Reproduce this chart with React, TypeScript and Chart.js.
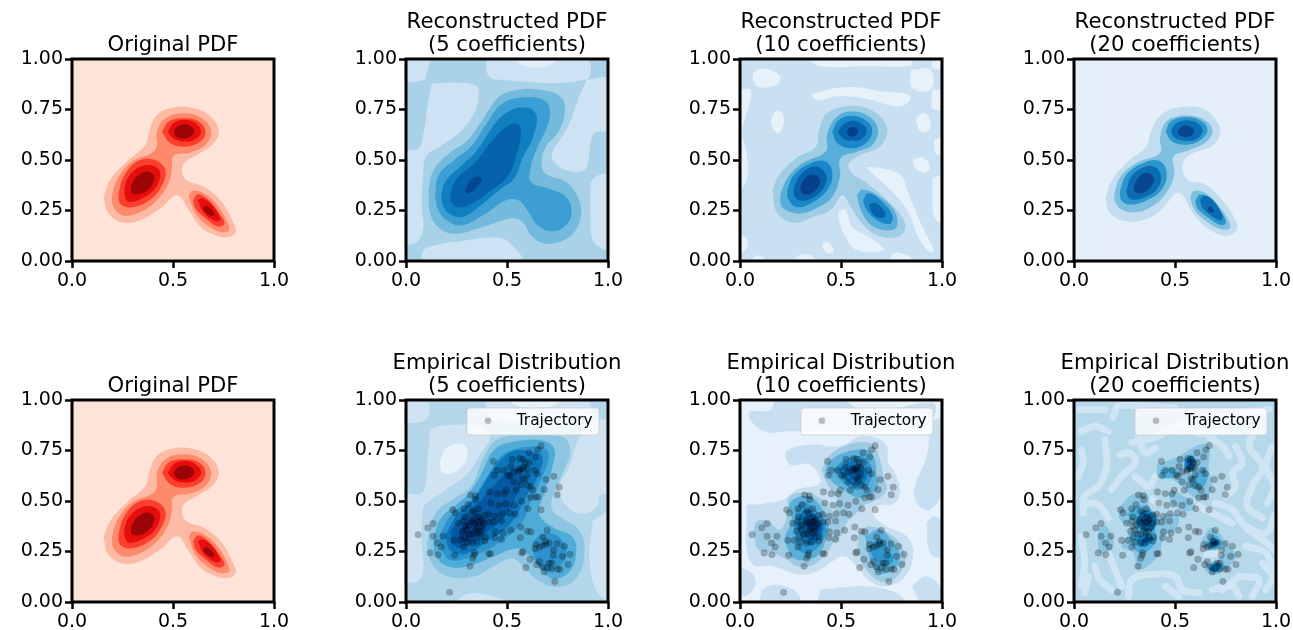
import React, { useEffect, useRef } from "react";
import { Chart, registerables } from "chart.js";
Chart.register(...registerables);

type P = [number, number];
const FULL: P[] = [[0,0],[1,0],[1,1],[0,1]];
const X_TICKS = [0, 0.5, 1];
const Y_TICKS = [0, 0.25, 0.5, 0.75, 1];

const TRAJECTORY: P[] = [[.06,.333],[.108,.367],[.134,.388],[.134,.325],[.12,.243],[.158,.234],[.156,.292],[.174,.272],[.183,.325],[.216,.048],[.317,.177],[.231,.457],[.244,.441],[.286,.462],[.307,.482],[.32,.53],[.344,.526],[.345,.507],[.433,.696],[.452,.652],[.437,.627],[.413,.545],[.452,.536],[.486,.536],[.496,.553],[.486,.652],[.505,.627],[.525,.706],[.563,.71],[.579,.706],[.609,.739],[.642,.718],[.652,.754],[.669,.774],[.636,.652],[.651,.635],[.576,.66],[.563,.658],[.584,.668],[.535,.644],[.515,.622],[.535,.594],[.546,.553],[.579,.611],[.589,.606],[.601,.578],[.618,.569],[.629,.553],[.642,.52],[.618,.516],[.573,.498],[.535,.479],[.493,.487],[.46,.479],[.603,.462],[.669,.457],[.652,.52],[.684,.556],[.694,.606],[.732,.622],[.759,.568],[.749,.531],[.443,.424],[.473,.401],[.41,.434],[.39,.429],[.36,.462],[.33,.45],[.291,.421],[.287,.401],[.33,.396],[.344,.388],[.36,.396],[.374,.404],[.385,.388],[.41,.396],[.435,.396],[.476,.437],[.513,.441],[.54,.434],[.294,.375],[.302,.355],[.294,.322],[.344,.355],[.357,.342],[.369,.322],[.393,.322],[.352,.297],[.33,.292],[.39,.302],[.236,.305],[.269,.305],[.286,.272],[.302,.297],[.241,.231],[.34,.243],[.337,.231],[.33,.215],[.418,.239],[.41,.239],[.443,.347],[.44,.318],[.48,.342],[.473,.31],[.518,.355],[.568,.371],[.566,.318],[.601,.35],[.618,.347],[.579,.248],[.573,.243],[.614,.211],[.647,.185],[.593,.17],[.676,.173],[.684,.149],[.709,.193],[.722,.193],[.72,.162],[.75,.162],[.762,.162],[.802,.186],[.812,.236],[.784,.276],[.749,.289],[.709,.292],[.692,.285],[.676,.28],[.642,.285],[.639,.264],[.662,.272],[.73,.259],[.729,.231],[.775,.226],[.699,.355],[.676,.322],[.737,.101],[.31,.38],[.325,.41],[.35,.37],[.37,.35],[.315,.335],[.38,.37],[.33,.335],[.6,.66],[.59,.69],[.61,.69],[.56,.65],[.6,.63],[.57,.58],[.52,.67],[.28,.35],[.26,.39],[.42,.49],[.66,.2],[.7,.17],[.69,.3],[.36,.42],[.34,.44]];

// Original PDF
const O1: P[] = [[.156,.318],[.189,.401],[.272,.492],[.363,.575],[.384,.649],[.421,.724],[.503,.76],[.603,.757],[.686,.715],[.727,.641],[.694,.575],[.619,.525],[.561,.492],[.545,.45],[.566,.401],[.652,.368],[.735,.301],[.793,.202],[.81,.144],[.768,.119],[.71,.128],[.636,.169],[.578,.252],[.52,.326],[.437,.26],[.338,.202],[.255,.189],[.18,.235]];
const O2A: P[] = [[.197,.318],[.222,.401],[.296,.492],[.412,.55],[.421,.641],[.462,.707],[.553,.732],[.644,.707],[.689,.641],[.661,.575],[.586,.537],[.503,.52],[.495,.45],[.47,.368],[.404,.285],[.321,.235],[.247,.227],[.205,.268]];
const O2B: P[] = [[.578,.318],[.595,.348],[.652,.335],[.719,.277],[.768,.194],[.777,.152],[.735,.144],[.669,.177],[.611,.235]];
const O3A: P[] = [[.445,.641],[.479,.691],[.553,.707],[.628,.691],[.661,.641],[.636,.591],[.561,.566],[.487,.583]];
const O3B: P[] = [[.23,.335],[.255,.417],[.321,.492],[.404,.503],[.462,.45],[.437,.359],[.371,.293],[.288,.265],[.238,.285]];
const O3C: P[] = [[.6,.301],[.623,.331],[.677,.301],[.735,.227],[.755,.185],[.719,.172],[.652,.219],[.611,.26]];
const O4A: P[] = [[.474,.641],[.503,.682],[.556,.699],[.611,.682],[.639,.641],[.611,.603],[.556,.591],[.5,.608]];
const O4B: P[] = [[.258,.359],[.28,.417],[.338,.467],[.404,.47],[.437,.434],[.412,.359],[.346,.31],[.28,.293],[.263,.318]];
const O4C: P[] = [[.623,.301],[.644,.31],[.686,.285],[.732,.219],[.732,.199],[.705,.199],[.652,.238]];
const O5A: P[] = [[.503,.641],[.523,.666],[.561,.677],[.595,.662],[.606,.641],[.586,.616],[.545,.606],[.512,.619]];
const O5B: P[] = [[.291,.368],[.313,.409],[.363,.442],[.401,.431],[.404,.392],[.374,.351],[.33,.331],[.296,.338]];
const O5C: P[] = [[.652,.268],[.669,.272],[.699,.243],[.705,.227],[.682,.227],[.656,.248]];

// Reconstructed, 5 coefficients
const A_LA: P[] = [[0,1],[.111,1],[.103,.929],[.086,.896],[0,.896]];
const A_LB: P[] = [[.398,1],[.891,1],[.891,.898],[.443,.898],[.402,.93]];
const A_LC: P[] = [[.128,.878],[.244,.883],[.344,.87],[.36,.828],[.344,.746],[.277,.647],[.178,.573],[.103,.523],[.086,.449],[.078,.267],[.086,.168],[.053,.094],[0,.091],[0,.54],[.061,.556],[.086,.63],[.111,.795]];
const A_LD: P[] = [[.895,.898],[1,.898],[1,.65],[.941,.639],[.916,.597],[.9,.482],[.875,.446],[.792,.449],[.734,.49],[.722,.531],[.759,.597],[.808,.68],[.85,.795]];
const A_LE: P[] = [[.078,0],[.086,.053],[.144,.078],[.277,.099],[.443,.116],[.51,.094],[.568,0]];
const A_LF: P[] = [[.913,.383],[.941,.419],[1,.424],[1,.061],[.974,.061],[.925,.102],[.913,.218]];
const A_LG: P[] = [[.535,1],[.739,1],[.709,.969],[.642,.957],[.568,.974]];
const A1: P[] = [[.111,.35],[.136,.449],[.211,.531],[.302,.597],[.377,.696],[.46,.812],[.559,.848],[.676,.845],[.767,.812],[.787,.746],[.759,.647],[.692,.564],[.671,.482],[.692,.432],[.792,.391],[.85,.317],[.867,.234],[.833,.144],[.759,.094],[.676,.089],[.618,.127],[.584,.185],[.543,.21],[.476,.201],[.377,.168],[.244,.135],[.169,.16],[.12,.234]];
const A2: P[] = [[.144,.317],[.161,.424],[.236,.498],[.319,.564],[.393,.672],[.476,.779],[.576,.809],[.676,.799],[.712,.754],[.701,.672],[.651,.564],[.618,.465],[.618,.391],[.709,.358],[.792,.317],[.82,.243],[.792,.177],[.725,.147],[.651,.177],[.601,.251],[.559,.3],[.493,.3],[.393,.234],[.277,.177],[.203,.201],[.161,.251]];
const A3: P[] = [[.174,.317],[.194,.391],[.277,.474],[.352,.548],[.435,.672],[.518,.746],[.609,.757],[.647,.713],[.626,.606],[.576,.507],[.535,.408],[.46,.35],[.36,.267],[.277,.218],[.219,.231],[.186,.267]];
const A4: P[] = [[.219,.333],[.252,.408],[.344,.49],[.427,.597],[.51,.672],[.559,.672],[.568,.622],[.543,.515],[.501,.416],[.41,.342],[.31,.276],[.252,.267],[.224,.292]];
const A5: P[] = [[.294,.358],[.319,.399],[.352,.419],[.374,.408],[.352,.366],[.314,.337],[.297,.342]];

// Reconstructed, 10 coefficients
const B_A: P[] = [[.066,.931],[.102,.951],[.168,.939],[.201,.901],[.168,.868],[.094,.861],[.066,.889]];
const B_B: P[] = [[.35,.823],[.432,.848],[.564,.861],[.696,.84],[.837,.823],[.837,.79],[.779,.765],[.614,.806],[.482,.815],[.383,.795]];
const B_C: P[] = [[.152,.691],[.177,.74],[.21,.732],[.215,.674],[.193,.633],[.168,.649]];
const B_D: P[] = [[.333,1],[.845,1],[.845,.967],[.614,.964],[.399,.964]];
const B_E: P[] = [[.845,.947],[.944,.947],[.944,.848],[.853,.856]];
const B_E2: P[] = [[.952,1],[1,1],[1,.955],[.952,.955]];
const B_E3: P[] = [[.952,.848],[1,.84],[1,.752],[.952,.757]];
const B_F: P[] = [[.87,.699],[.903,.732],[.939,.707],[.936,.649],[.894,.641]];
const B_G: P[] = [[.96,.599],[1,.613],[1,.533],[.969,.53]];
const B_H: P[] = [[.853,.5],[.903,.513],[.94,.467],[.911,.437],[.87,.459]];
const B_I: P[] = [[.952,.409],[1,.421],[1,.194],[.96,.219]];
const B_J: P[] = [[0,.848],[.05,.848],[.053,.798],[.028,.715],[.012,.633],[.033,.533],[.036,.417],[0,.359]];
const B_K: P[] = [[.622,.467],[.696,.459],[.795,.426],[.828,.351],[.861,.268],[.911,.152],[.96,.053],[.936,.045],[.878,.128],[.828,.252],[.746,.351],[.663,.426]];
const B_L: P[] = [[.49,.252],[.523,.252],[.556,.169],[.663,.103],[.713,.053],[.581,.053],[.523,.119],[.49,.202]];
const B_M: P[] = [[.408,.086],[.432,.094],[.465,.053],[.449,.036],[.416,.053]];
const B_N1: P[] = [[.267,0],[.292,.028],[.35,.028],[.375,0]];
const B_N2: P[] = [[.053,0],[.086,.028],[.127,0]];
const B_N3: P[] = [[.738,0],[.762,.04],[.828,.028],[.861,0]];
const B_O: P[] = [[0,.119],[.028,.119],[.036,.07],[0,.045]];
const B1: P[] = [[.16,.351],[.193,.426],[.276,.508],[.375,.566],[.391,.649],[.432,.732],[.556,.768],[.663,.74],[.724,.674],[.721,.608],[.68,.558],[.597,.525],[.54,.484],[.548,.442],[.63,.384],[.729,.301],[.812,.202],[.812,.144],[.762,.116],[.68,.128],[.606,.185],[.548,.268],[.507,.326],[.449,.252],[.366,.219],[.267,.189],[.185,.235]];
const B2A: P[] = [[.201,.335],[.234,.409],[.309,.484],[.424,.542],[.432,.633],[.482,.715],[.556,.74],[.639,.715],[.683,.649],[.655,.575],[.581,.542],[.498,.508],[.495,.417],[.457,.318],[.391,.268],[.3,.235],[.226,.252],[.201,.285]];
const B2B: P[] = [[.578,.326],[.606,.354],[.68,.326],[.762,.252],[.779,.177],[.746,.152],[.663,.169],[.606,.235]];
const B3A: P[] = [[.457,.641],[.49,.699],[.556,.719],[.63,.691],[.655,.641],[.622,.583],[.556,.558],[.482,.583]];
const B3B: P[] = [[.234,.351],[.267,.426],[.35,.484],[.424,.492],[.457,.434],[.432,.351],[.35,.285],[.276,.268],[.238,.31]];
const B3C: P[] = [[.609,.301],[.634,.335],[.696,.301],[.754,.227],[.743,.185],[.68,.202],[.627,.252]];
const B4A: P[] = [[.485,.641],[.515,.679],[.559,.696],[.61,.674],[.627,.641],[.6,.603],[.556,.596],[.507,.608]];
const B4B: P[] = [[.267,.359],[.292,.417],[.35,.464],[.399,.459],[.429,.409],[.399,.343],[.342,.305],[.292,.301],[.267,.326]];
const B4C: P[] = [[.639,.277],[.663,.288],[.705,.26],[.721,.227],[.705,.214],[.663,.227]];
const B5A: P[] = [[.528,.641],[.545,.661],[.568,.662],[.586,.641],[.568,.619],[.54,.619]];
const B5B: P[] = [[.297,.368],[.325,.414],[.366,.429],[.396,.401],[.383,.359],[.342,.331],[.309,.335]];

// Reconstructed, 20 coefficients
const C1: P[] = [[.156,.313],[.185,.395],[.268,.494],[.359,.568],[.381,.642],[.434,.725],[.533,.763],[.641,.753],[.707,.692],[.724,.634],[.682,.568],[.591,.535],[.542,.494],[.542,.436],[.566,.4],[.649,.379],[.732,.305],[.798,.206],[.806,.156],[.757,.124],[.682,.148],[.6,.222],[.517,.338],[.434,.255],[.351,.206],[.252,.198],[.177,.239]];
const C2A: P[] = [[.199,.329],[.227,.412],[.31,.486],[.426,.535],[.426,.609],[.459,.692],[.55,.72],[.649,.697],[.686,.642],[.649,.585],[.566,.547],[.492,.516],[.497,.436],[.467,.354],[.401,.28],[.31,.242],[.235,.255],[.202,.296]];
const C2B: P[] = [[.575,.313],[.591,.346],[.649,.338],[.724,.264],[.773,.181],[.765,.156],[.707,.165],[.633,.214],[.591,.264]];
const C3A: P[] = [[.454,.642],[.48,.692],[.558,.713],[.633,.692],[.661,.646],[.624,.598],[.558,.576],[.484,.593]];
const C3B: P[] = [[.227,.346],[.26,.428],[.351,.489],[.426,.494],[.459,.436],[.434,.354],[.351,.296],[.268,.28],[.232,.305]];
const C3C: P[] = [[.6,.296],[.624,.329],[.682,.305],[.732,.239],[.752,.189],[.724,.178],[.666,.214],[.616,.255]];
const C4A: P[] = [[.479,.642],[.503,.68],[.558,.697],[.616,.68],[.636,.642],[.608,.604],[.558,.595],[.5,.609]];
const C4B: P[] = [[.26,.354],[.285,.42],[.351,.466],[.401,.466],[.431,.42],[.409,.354],[.343,.313],[.285,.305],[.262,.329]];
const C4C: P[] = [[.624,.305],[.646,.324],[.691,.296],[.732,.231],[.729,.201],[.682,.222],[.636,.264]];
const C5A: P[] = [[.512,.642],[.533,.664],[.558,.67],[.586,.659],[.596,.642],[.58,.621],[.55,.614],[.52,.626]];
const C5B: P[] = [[.298,.371],[.318,.412],[.359,.436],[.392,.42],[.392,.387],[.359,.346],[.318,.334],[.298,.346]];
const C5C: P[] = [[.661,.264],[.677,.268],[.694,.247],[.686,.239],[.666,.247]];

// Empirical, 5 coefficients
const D_LA: P[] = [[0,1],[.103,1],[.103,.907],[0,.896]];
const D_LB: P[] = [[.393,1],[.891,1],[.891,.896],[.44,.9],[.4,.95]];
const D_LC: P[] = [[.12,.858],[.194,.875],[.36,.87],[.418,.825],[.369,.734],[.302,.635],[.194,.553],[.111,.495],[.086,.47],[.078,.305],[.078,.124],[0,.107],[0,.528],[.07,.533],[.095,.569],[.108,.718]];
const D_LD: P[] = [[.9,.891],[1,.891],[1,.545],[.958,.528],[.95,.479],[.875,.437],[.792,.479],[.759,.569],[.808,.668],[.842,.776]];
const D_LE: P[] = [[.925,.404],[1,.437],[1,0],[.941,.058],[.908,.223]];
const D_LF: P[] = [[.244,0],[.31,.041],[.443,.025],[.493,0]];
const D_WA: P[] = [[.501,1],[.759,1],[.71,.967],[.568,.967]];
const D_WB: P[] = [[.169,.693],[.194,.759],[.261,.784],[.302,.759],[.294,.693],[.227,.635],[.178,.644]];
const D1: P[] = [[.103,.289],[.144,.437],[.236,.512],[.319,.569],[.393,.734],[.46,.809],[.609,.825],[.775,.817],[.813,.751],[.775,.635],[.725,.52],[.725,.454],[.775,.413],[.858,.355],[.883,.239],[.842,.116],[.742,.074],[.642,.116],[.584,.173],[.526,.215],[.443,.182],[.327,.124],[.194,.132],[.12,.206]];
const D2: P[] = [[.136,.322],[.178,.421],[.294,.52],[.36,.611],[.435,.751],[.526,.792],[.676,.8],[.734,.759],[.725,.668],[.684,.536],[.659,.437],[.725,.371],[.825,.322],[.842,.239],[.808,.149],[.725,.116],[.659,.173],[.601,.239],[.543,.264],[.427,.223],[.294,.173],[.194,.182],[.144,.239]];
const D3A: P[] = [[.169,.338],[.227,.437],[.319,.503],[.402,.619],[.476,.726],[.593,.767],[.692,.759],[.706,.71],[.667,.602],[.618,.503],[.576,.396],[.476,.305],[.36,.239],[.227,.206],[.178,.256]];
const D3B: P[] = [[.629,.272],[.651,.322],[.725,.338],[.784,.289],[.792,.223],[.742,.165],[.684,.157],[.642,.206]];
const D4: P[] = [[.194,.33],[.252,.429],[.344,.52],[.427,.652],[.518,.743],[.626,.743],[.676,.718],[.651,.619],[.593,.52],[.518,.388],[.41,.305],[.294,.239],[.219,.256]];
const D5: P[] = [[.219,.347],[.277,.421],[.369,.503],[.443,.586],[.518,.652],[.576,.652],[.543,.52],[.493,.429],[.393,.338],[.294,.272],[.236,.281]];
const D6: P[] = [[.269,.355],[.319,.413],[.369,.429],[.393,.396],[.352,.322],[.294,.297],[.261,.314]];

// Empirical, 10 coefficients
const E_P0: P[] = [[.033,.482],[.116,.487],[.215,.507],[.281,.556],[.396,.589],[.347,.68],[.248,.68],[.231,.746],[.347,.779],[.495,.771],[.594,.82],[.677,.812],[.726,.771],[.734,.688],[.759,.655],[.792,.556],[.767,.49],[.677,.474],[.66,.432],[.726,.375],[.825,.325],[.858,.243],[.817,.127],[.726,.078],[.644,.102],[.578,.177],[.512,.226],[.446,.193],[.396,.16],[.297,.135],[.165,.177],[.066,.185],[.03,.276],[.033,.391]];
const E_T: P[] = [[.173,1],[.512,1],[.578,.96],[.726,.952],[.957,.985],[.957,.911],[.875,.845],[.743,.845],[.611,.837],[.446,.845],[.239,.845],[.116,.845],[.041,.936],[.149,.952]];
const E_R: P[] = [[.941,.894],[1,.903],[1,.556],[.941,.457],[.875,.49],[.866,.573],[.924,.721]];
const E_B1: P[] = [[0,.177],[.066,.135],[.074,.078],[.025,.028],[0,.045]];
const E_B2: P[] = [[.107,.061],[.165,.086],[.264,.061],[.297,0],[.107,0]];
const E_B3: P[] = [[.85,.078],[.924,.127],[1,.061],[1,0],[.899,0]];
const E_B4: P[] = [[.396,.061],[.611,.078],[.776,.045],[.809,0],[.396,0]];
const E_B5: P[] = [[.924,.391],[.957,.424],[1,.391],[1,.226],[.941,.243]];
const E1A: P[] = [[.066,.35],[.083,.399],[.14,.399],[.198,.358],[.239,.457],[.239,.515],[.305,.543],[.38,.523],[.429,.482],[.487,.399],[.462,.3],[.429,.243],[.363,.185],[.281,.177],[.231,.21],[.165,.243],[.091,.259]];
const E1B: P[] = [[.404,.655],[.446,.729],[.561,.787],[.66,.779],[.693,.705],[.71,.622],[.726,.556],[.66,.498],[.578,.482],[.479,.523],[.437,.573]];
const E1C: P[] = [[.586,.342],[.644,.375],[.759,.325],[.809,.259],[.817,.193],[.759,.111],[.693,.102],[.627,.16],[.586,.243]];
const E1D: P[] = [[.479,.523],[.586,.523],[.611,.482],[.528,.391],[.512,.342],[.462,.3]];
const E2A: P[] = [[.223,.325],[.256,.408],[.248,.49],[.322,.526],[.38,.498],[.437,.391],[.429,.325],[.396,.243],[.338,.21],[.264,.218],[.231,.276]];
const E2B: P[] = [[.421,.655],[.462,.713],[.578,.754],[.652,.738],[.677,.622],[.677,.556],[.594,.515],[.512,.556],[.446,.606]];
const E2C: P[] = [[.619,.325],[.693,.358],[.759,.292],[.792,.226],[.759,.16],[.685,.144],[.644,.21]];
const E3A: P[] = [[.264,.391],[.297,.49],[.355,.474],[.421,.391],[.413,.309],[.347,.243],[.289,.259],[.272,.325]];
const E3B: P[] = [[.462,.655],[.52,.705],[.602,.721],[.652,.663],[.635,.581],[.569,.556],[.495,.606]];
const E3C: P[] = [[.635,.276],[.693,.309],[.734,.259],[.759,.21],[.718,.177],[.668,.21]];
const E4A: P[] = [[.281,.399],[.322,.457],[.388,.416],[.413,.358],[.363,.284],[.314,.3]];
const E4B: P[] = [[.487,.655],[.553,.696],[.627,.655],[.611,.589],[.553,.581]];
const E5A: P[] = [[.305,.391],[.347,.432],[.404,.375],[.38,.325],[.338,.309]];
const E5B: P[] = [[.52,.655],[.569,.68],[.602,.63],[.569,.597]];
const E6A: P[] = [[.322,.391],[.363,.416],[.388,.375],[.355,.35]];
const E6B: P[] = [[.553,.663],[.586,.655],[.578,.63]];

// Empirical, 20 coefficients: pale ridges
const RIDGES: P[][] = [
  [[.028,.952],[.153,.952]],
  [[.037,.845],[.103,.87],[.169,.845]],
  [[.194,.913],[.219,.969],[.352,.969],[.502,.96]],
  [[.286,.789],[.419,.822],[.502,.871],[.734,.904],[.883,.944],[.966,.952]],
  [[.036,.751],[.045,.688],[.02,.622]],
  [[.153,.804],[.161,.672],[.12,.573],[.053,.523],[.045,.44]],
  [[.228,.729],[.278,.737],[.302,.688],[.236,.622],[.186,.556]],
  [[.535,.87],[.618,.837],[.734,.845]],
  [[.8,.77],[.833,.688],[.784,.639],[.8,.573],[.75,.523]],
  [[.9,.853],[.867,.77],[.933,.672],[.883,.573],[.858,.474],[.933,.416]],
  [[.983,.77],[.95,.672],[.991,.573],[.958,.49]],
  [[.037,.325],[.053,.193],[.037,.078]],
  [[.103,.177],[.128,.111],[.186,.061]],
  [[.269,.028],[.286,.111],[.369,.135],[.502,.127],[.535,.061],[.618,.045]],
  [[.701,.49],[.784,.457],[.85,.375],[.95,.342],[.991,.425]],
  [[.85,.276],[.95,.243],[.983,.16]],
  [[.833,.127],[.916,.111],[.883,.028]],
  [[.684,.061],[.784,.078],[.817,.028]],
  [[.385,.507],[.419,.49]],
  [[.302,.622],[.369,.573],[.402,.622]],
  [[.659,.234],[.734,.243]],
  [[.053,.49],[.12,.482],[.169,.416]],
  [[.734,.061],[.817,.127]],
  [[.95,.061],[.983,.127],[.933,.193]],
  [[.169,.243],[.203,.16],[.236,.078]],
  [[.07,.127],[.053,.045]],
  [[.618,.474],[.701,.432],[.784,.391]],
  [[.858,.358],[.933,.309],[.991,.259]],
  [[.767,.721],[.734,.771],[.667,.82]],
  [[.319,.82],[.352,.738],[.402,.762]],
  [[.452,.078],[.518,.028]],
];
const F1A: P[] = [[.219,.465],[.302,.54],[.369,.523],[.369,.465],[.418,.432],[.452,.358],[.435,.292],[.418,.226],[.319,.16],[.294,.243],[.236,.276],[.277,.358],[.227,.408]];
const F1B: P[] = [[.41,.68],[.518,.721],[.618,.779],[.667,.771],[.667,.655],[.684,.589],[.651,.507],[.601,.515],[.551,.556],[.485,.606],[.418,.614]];
const F1C: P[] = [[.634,.309],[.684,.366],[.767,.276],[.8,.226],[.75,.16],[.684,.135],[.642,.177],[.717,.21],[.734,.259],[.651,.259]];
const F1D: P[] = [[.12,.366],[.161,.375],[.194,.276],[.128,.243]];
const F1E: P[] = [[.468,.54],[.518,.54],[.601,.474],[.551,.449],[.485,.49]];
const F1F: P[] = [[.452,.441],[.518,.424],[.501,.358],[.452,.342],[.427,.391]];
const F2A: P[] = [[.261,.432],[.31,.474],[.369,.465],[.41,.416],[.402,.358],[.41,.309],[.352,.243],[.302,.259],[.277,.317],[.31,.375]];
const F2B: P[] = [[.427,.655],[.485,.663],[.526,.63],[.476,.614],[.435,.622]];
const F2C: P[] = [[.543,.705],[.584,.729],[.609,.68],[.593,.647],[.551,.655]];
const F2D: P[] = [[.568,.606],[.618,.647],[.651,.663],[.659,.606],[.626,.556],[.584,.564]];
const F2E: P[] = [[.659,.3],[.692,.333],[.734,.292],[.701,.259],[.651,.276]];
const F2F: P[] = [[.659,.177],[.701,.201],[.75,.177],[.701,.144]];
const F3A: P[] = [[.302,.399],[.352,.454],[.405,.416],[.393,.358],[.335,.358]];
const F3B: P[] = [[.31,.309],[.352,.342],[.393,.317],[.36,.276],[.327,.276]];
const F3C: P[] = [[.551,.705],[.584,.721],[.601,.688],[.576,.655],[.551,.668]];
const F3D: P[] = [[.667,.292],[.692,.317],[.72,.295],[.692,.272]];
const F3E: P[] = [[.667,.168],[.709,.193],[.734,.177],[.692,.147]];
const F4A: P[] = [[.327,.408],[.36,.437],[.388,.408],[.36,.375]];
const F4B: P[] = [[.335,.309],[.36,.325],[.377,.309],[.352,.292]];
const F4C: P[] = [[.559,.696],[.581,.708],[.588,.685],[.568,.675]];
const F4D: P[] = [[.681,.292],[.701,.305],[.714,.292],[.696,.282]];

const REDS = ["#fee3d8", "#fdbba6", "#fe8a6c", "#fb3f2e", "#e60d0d", "#9c0505"];

type Region = [string, P[]];
type Panel = { title: string[]; base: string; regions: Region[]; ridges?: P[][]; ridgeColor?: string; dots?: boolean; col: number; row: number };

const ORIGINAL: Region[] = [[REDS[1], O1], [REDS[2], O2A], [REDS[2], O2B], [REDS[3], O3A], [REDS[3], O3B], [REDS[3], O3C], [REDS[4], O4A], [REDS[4], O4B], [REDS[4], O4C], [REDS[5], O5A], [REDS[5], O5B], [REDS[5], O5C]];

const PANELS: Panel[] = [
  { col: 0, row: 0, title: ["Original PDF"], base: REDS[0], regions: ORIGINAL },
  { col: 1, row: 0, title: ["Reconstructed PDF", "(5 coefficients)"], base: "#a9d1e7", regions: [
    ["#cde2f3", A_LA], ["#cde2f3", A_LB], ["#cde2f3", A_LC], ["#cde2f3", A_LD], ["#cde2f3", A_LE], ["#cde2f3", A_LF], ["#e3eef9", A_LG],
    ["#74badd", A1], ["#3d9ed3", A2], ["#0f7fc0", A3], ["#0562ab", A4], ["#04478e", A5] ] },
  { col: 2, row: 0, title: ["Reconstructed PDF", "(10 coefficients)"], base: "#c9e0f2", regions: [
    ...[B_A, B_B, B_C, B_D, B_E, B_E2, B_E3, B_F, B_G, B_H, B_I, B_J, B_K, B_L, B_M, B_N1, B_N2, B_N3, B_O].map((p): Region => ["#e6f1fa", p]),
    ["#a0cde4", B1], ["#57aedb", B2A], ["#57aedb", B2B], ["#1a87c8", B3A], ["#1a87c8", B3B], ["#1a87c8", B3C], ["#0562ab", B4A], ["#0562ab", B4B], ["#0562ab", B4C], ["#06408a", B5A], ["#06408a", B5B] ] },
  { col: 3, row: 0, title: ["Reconstructed PDF", "(20 coefficients)"], base: "#e4eff9", regions: [
    ["#c3ddf0", C1], ["#7fbfdf", C2A], ["#7fbfdf", C2B], ["#2b96cb", C3A], ["#2b96cb", C3B], ["#2b96cb", C3C], ["#0b6cb3", C4A], ["#0b6cb3", C4B], ["#0b6cb3", C4C], ["#08468f", C5A], ["#08468f", C5B], ["#08468f", C5C] ] },
  { col: 0, row: 1, title: ["Original PDF"], base: REDS[0], regions: ORIGINAL },
  { col: 1, row: 1, dots: true, title: ["Empirical Distribution", "(5 coefficients)"], base: "#b4d6eb", regions: [
    ["#d0e3f3", D_LA], ["#d0e3f3", D_LB], ["#d0e3f3", D_LC], ["#d0e3f3", D_LD], ["#d0e3f3", D_LE], ["#d0e3f3", D_LF], ["#e8f2fa", D_WA], ["#e8f2fa", D_WB],
    ["#8cc6e2", D1], ["#4facd9", D2], ["#2d92ce", D3A], ["#2d92ce", D3B], ["#0c75ba", D4], ["#0459a4", D5], ["#04428b", D6] ] },
  { col: 2, row: 1, dots: true, title: ["Empirical Distribution", "(10 coefficients)"], base: "#e6f1fb", regions: [
    ...[E_P0, E_T, E_R, E_B1, E_B2, E_B3, E_B4, E_B5].map((p): Region => ["#c8dff1", p]),
    ["#9ecbe3", E1A], ["#9ecbe3", E1B], ["#9ecbe3", E1C], ["#9ecbe3", E1D], ["#5bb0da", E2A], ["#5bb0da", E2B], ["#5bb0da", E2C], ["#2f93ce", E3A], ["#2f93ce", E3B], ["#2f93ce", E3C], ["#0b76bb", E4A], ["#0b76bb", E4B], ["#0559a2", E5A], ["#0559a2", E5B], ["#04387f", E6A], ["#04387f", E6B] ] },
  { col: 3, row: 1, dots: true, title: ["Empirical Distribution", "(20 coefficients)"], base: "#b5d8eb", ridges: RIDGES, ridgeColor: "#cfe5f3", regions: [
    ["#89c4e2", F1A], ["#89c4e2", F1B], ["#89c4e2", F1C], ["#89c4e2", F1D], ["#89c4e2", F1E], ["#89c4e2", F1F],
    ...[F2A, F2B, F2C, F2D, F2E, F2F].map((p): Region => ["#4cabd9", p]),
    ...[F3A, F3B, F3C, F3D, F3E].map((p): Region => ["#0f7fc2", p]),
    ...[F4A, F4B, F4C, F4D].map((p): Region => ["#04509a", p]) ] },
];

const LEFTS = [72, 406, 740, 1074];
const TOPS = [59, 400];
const SIZE = 202;
const PAD_L = 70, PAD_T = 58, PAD_R = 20, PAD_B = 30;
const LH = 23.3;
const FONT = "'DejaVu Sans'";
const DOT_COLOR = "rgba(0,0,0,0.25)";

const xy = (p: P[]) => p.map(([x, y]) => ({ x, y }));

function legendMarker() {
  const c = document.createElement("canvas");
  c.width = 8; c.height = 8;
  const g = c.getContext("2d")!;
  g.fillStyle = DOT_COLOR;
  g.beginPath(); g.arc(4, 4, 3.3, 0, Math.PI * 2); g.fill();
  return c;
}

function buildDatasets(panel: Panel) {
  const out: any[] = [];
  const poly = (color: string, pts: P[], tension: number) => out.push({
    label: "", data: xy([...pts, pts[0]]), showLine: true, fill: "shape", tension,
    backgroundColor: color, borderColor: color, borderWidth: 0, pointRadius: 0, clip: 0,
  });
  poly(panel.base, FULL, 0);
  (panel.ridges || []).forEach((r) => out.push({
    label: "", data: xy(r), showLine: true, fill: false, tension: 0.4, borderColor: panel.ridgeColor,
    borderWidth: 7, borderCapStyle: "round", pointRadius: 0, clip: 0,
  }));
  panel.regions.forEach(([c, p]) => poly(c, p, 0.4));
  if (panel.dots) out.push({
    label: "Trajectory", data: xy(TRAJECTORY), showLine: false, pointStyle: "circle", pointRadius: 3.3,
    backgroundColor: DOT_COLOR, borderColor: DOT_COLOR, pointBackgroundColor: DOT_COLOR,
    pointBorderColor: DOT_COLOR, pointBorderWidth: 0.3, clip: 0,
  });
  const n = out.length;
  out.forEach((d, i) => { d.order = n - i; });
  return out;
}

const framePlugin = {
  id: "frame",
  afterLayout(chart: any) {
    const a = chart.chartArea, lg = chart.legend, t = chart.titleBlock;
    if (t) { t.left -= 30; t.right += 30; }
    if (lg && chart.options.plugins.legend.display) {
      lg.left = a.left + 48; lg.right = a.right; lg.top = a.top; lg.bottom = a.bottom;
    }
  },
  afterDatasetsDraw(chart: any) {
    const { ctx, chartArea: a } = chart;
    if (chart.options.plugins.legend.display) {
      ctx.save();
      ctx.beginPath();
      ctx.roundRect(a.left + 61, a.top + 8, 132, 27, 3);
      ctx.fillStyle = "rgba(255,255,255,0.8)";
      ctx.strokeStyle = "rgba(204,204,204,0.8)";
      ctx.lineWidth = 1;
      ctx.fill(); ctx.stroke();
      ctx.restore();
      chart.legend.draw();
    }
    ctx.save();
    ctx.strokeStyle = "#000"; ctx.lineWidth = 3;
    ctx.strokeRect(a.left, a.top, a.width, a.height);
    ctx.restore();
  },
};

function PanelChart({ panel }: { panel: Panel }) {
  const ref = useRef<HTMLCanvasElement>(null);
  useEffect(() => {
    const lines = panel.title.length;
    const marker = legendMarker();
    const chart = new Chart(ref.current!, {
      type: "scatter",
      data: { datasets: buildDatasets(panel) },
      plugins: [framePlugin],
      options: {
        animation: false, responsive: false, maintainAspectRatio: false,
        layout: { padding: { left: 0, top: 0, right: PAD_R, bottom: 0 } },
        plugins: {
          tooltip: { enabled: false },
          title: {
            display: true, text: panel.title, color: "#000", fullSize: false, align: "center",
            font: { family: FONT, size: 21.2, lineHeight: LH / 21.2, weight: "normal" },
            padding: { top: PAD_T - lines * LH - 2, bottom: 2 },
          },
          legend: {
            display: !!panel.dots, position: "chartArea", align: "start",
            labels: {
              generateLabels: () => [{ text: "Trajectory", pointStyle: marker, fontColor: "#000", lineWidth: 0, hidden: false }],
              usePointStyle: true, pointStyleWidth: 42, boxHeight: 4,
              padding: 13, color: "#000", font: { family: FONT, size: 15.4 },
            },
          },
        },
        scales: {
          x: {
            type: "linear", min: 0, max: 1,
            afterBuildTicks: (s: any) => { s.ticks = X_TICKS.map((value) => ({ value })); },
            afterFit: (s: any) => { s.height = PAD_B; s.paddingLeft = 0; s.paddingRight = 0; },
            border: { display: false },
            grid: { drawOnChartArea: false, drawTicks: true, tickLength: 7, tickWidth: 2.5, tickColor: "#000" },
            ticks: { autoSkip: false, maxRotation: 0, padding: 2, color: "#000", font: { family: FONT, size: 19 }, callback: (v: any) => Number(v).toFixed(1) },
          },
          y: {
            type: "linear", min: 0, max: 1,
            afterBuildTicks: (s: any) => { s.ticks = Y_TICKS.map((value) => ({ value })); },
            afterFit: (s: any) => { s.width = PAD_L; s.paddingTop = 0; s.paddingBottom = 0; },
            border: { display: false },
            grid: { drawOnChartArea: false, drawTicks: true, tickLength: 7, tickWidth: 2.5, tickColor: "#000" },
            ticks: { autoSkip: false, padding: 2, color: "#000", font: { family: FONT, size: 19 }, callback: (v: any) => Number(v).toFixed(2) },
          },
        },
      } as any,
    });
    return () => chart.destroy();
  }, [panel]);
  const left = LEFTS[panel.col] - PAD_L, top = TOPS[panel.row] - PAD_T;
  return <canvas ref={ref} width={PAD_L + SIZE + PAD_R} height={PAD_T + SIZE + PAD_B} style={{ position: "absolute", left, top, display: "block" }} />;
}

export default function App() {
  return (
    <div style={{ position: "absolute", left: 0, top: 0, width: 1293, height: 630, background: "#fff", overflow: "hidden" }}>
      {PANELS.map((p, i) => <PanelChart key={i} panel={p} />)}
    </div>
  );
}
